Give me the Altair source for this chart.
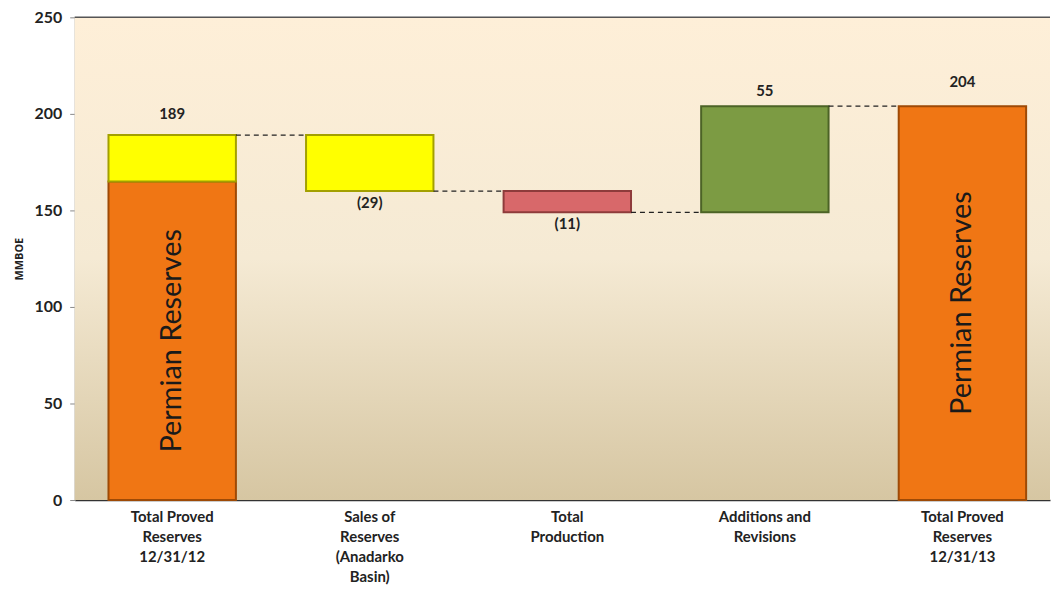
import altair as alt
import pandas as pd

# ---- data ----
categories = [
    "Total Proved|Reserves|12/31/12",
    "Sales of|Reserves|(Anadarko|Basin)",
    "Total|Production",
    "Additions and|Revisions",
    "Total Proved|Reserves|12/31/13",
]
# bar segments (category index, low, high, kind)
seg_cat = [0, 0, 1, 2, 3, 4]
seg_lo = [0, 165, 160, 149, 149, 0]
seg_hi = [165, 189, 189, 160, 204, 204]
seg_kind = ["permian", "other", "sale", "production", "additions", "permian"]

# value labels
lab_cat = [0, 1, 2, 3, 4]
lab_text = ["189", "(29)", "(11)", "55", "204"]
lab_level = [189, 160, 149, 204, 204]
lab_kind = ["total", "down", "down", "up", "total2"]

# dashed connectors between bars
conn_from = [0, 1, 2, 3]
conn_to = [1, 2, 3, 4]
conn_level = [189, 160, 149, 204]

y_ticks = [0, 50, 100, 150, 200, 250]

# ---- tables ----
seg = pd.DataFrame({
    "cat": [categories[i] for i in seg_cat],
    "lo": seg_lo, "hi": seg_hi, "kind": seg_kind,
})
labs = pd.DataFrame({
    "cat": [categories[i] for i in lab_cat],
    "text": lab_text, "level": lab_level, "kind": lab_kind,
})
conn = pd.DataFrame({
    "from": [categories[i] for i in conn_from],
    "to": [categories[i] for i in conn_to],
    "level": conn_level,
})

W, H = 980, 485
FONT = "Lato"

xscale = alt.Scale(domain=categories, paddingInner=0.355, paddingOuter=0.146, align=0.586)
yscale = alt.Scale(domain=[0, 250], nice=False)

kind_dom = ["permian", "other", "sale", "production", "additions"]
fill_rng = ["#F07614", "#FFFF00", "#FFFF00", "#D8686A", "#7C9B43"]
stroke_rng = ["#9E4A06", "#A3A000", "#A3A000", "#8E3B3B", "#4C6326"]

bg = alt.Chart(pd.DataFrame({"a": [0]})).mark_rect(
    color=alt.LinearGradient(
        gradient="linear", x1=0, x2=0, y1=0, y2=1,
        stops=[
            alt.GradientStop(color="#FEEFD8", offset=0),
            alt.GradientStop(color="#F5EAD4", offset=0.5),
            alt.GradientStop(color="#D6C6A2", offset=1),
        ],
    )
).encode(x=alt.value(0), x2=alt.value("width"), y=alt.value(0), y2=alt.value("height"))

top_line = alt.Chart(pd.DataFrame({"a": [0]})).mark_rule(color="#555555", strokeWidth=1.5).encode(
    x=alt.value(0), x2=alt.value("width"), y=alt.datum(250, scale=yscale)
)

bars = alt.Chart(seg).mark_bar(strokeWidth=2).encode(
    x=alt.X("cat:N", scale=xscale, sort=categories,
            axis=alt.Axis(title=None, labelAngle=0, ticks=False, labelPadding=10,
                          labelExpr="split(datum.label, '|')",
                          labelFont=FONT, labelFontSize=15, labelFontWeight="bold",
                          labelColor="#222222", labelLineHeight=20, labelBaseline="top",
                          domainColor="#333333", domainWidth=1.5)),
    y=alt.Y("lo:Q", scale=yscale,
            axis=alt.Axis(title="MMBOE", values=y_ticks, grid=False, tickSize=5,
                          tickColor="#888888", domainColor="#999999",
                          labelFont=FONT, labelFontSize=16, labelFontWeight="bold",
                          labelColor="#222222", labelPadding=8,
                          titleFont="Open Sans", titleFontSize=11, titleFontWeight="bold",
                          titleColor="#222222", titlePadding=10)),
    y2="hi:Q",
    fill=alt.Fill("kind:N", scale=alt.Scale(domain=kind_dom, range=fill_rng), legend=None),
    stroke=alt.Stroke("kind:N", scale=alt.Scale(domain=kind_dom, range=stroke_rng), legend=None),
)

permian = alt.Chart(seg).transform_filter(alt.datum.kind == "permian").transform_calculate(
    mid="(datum.lo + datum.hi) / 2"
).mark_text(text="Permian Reserves", angle=270, font=FONT, fontSize=29,
            color="#1A1A1A", align="center", baseline="middle").encode(
    x=alt.X("cat:N", scale=xscale, sort=categories),
    y=alt.Y("mid:Q", scale=yscale),
)

connectors = alt.Chart(conn).mark_rule(strokeDash=[5, 4], color="#222222", strokeWidth=1.2).encode(
    x=alt.X("from:N", scale=xscale, sort=categories, bandPosition=1),
    x2=alt.X2("to:N", bandPosition=0),
    y=alt.Y("level:Q", scale=yscale),
)

def label_layer(kinds, baseline, dy):
    return alt.Chart(labs).transform_filter(
        alt.FieldOneOfPredicate(field="kind", oneOf=kinds)
    ).mark_text(font=FONT, fontSize=15, fontWeight="bold", color="#222222",
                baseline=baseline, dy=dy).encode(
        x=alt.X("cat:N", scale=xscale, sort=categories),
        y=alt.Y("level:Q", scale=yscale),
        text="text:N",
    )

lab_total = label_layer(["total"], "bottom", -13)
lab_total2 = label_layer(["total2"], "bottom", -16)
lab_up = label_layer(["up"], "bottom", -7)
lab_down = label_layer(["down"], "top", 5)

chart = alt.layer(
    bg, top_line, bars, permian, connectors, lab_total, lab_total2, lab_up, lab_down
).properties(
    width=W, height=H,
    padding={"left": 5, "top": 0, "right": 0, "bottom": 0},
    background="white",
).configure_view(stroke=None)

chart.save("out.html", embed_options={"renderer": "svg", "actions": False})
